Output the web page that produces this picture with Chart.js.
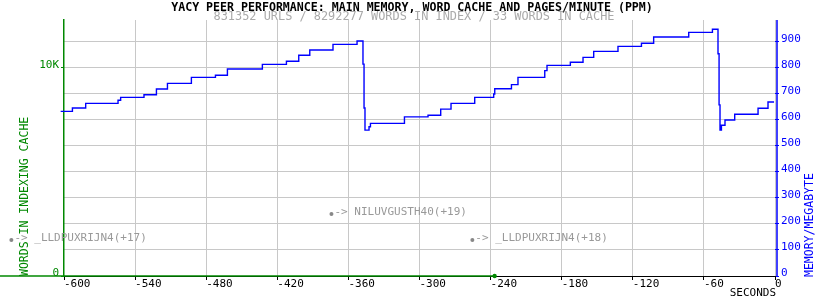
<!DOCTYPE html>
<html><head><meta charset="utf-8">
<script src="https://cdn.jsdelivr.net/npm/chart.js@4/dist/chart.umd.min.js"></script>
<style>html,body{margin:0;padding:0;background:#fff}</style>
</head><body>
<canvas id="c" width="825" height="300" style="display:block;width:825px;height:300px"></canvas>
<script>
const chartTitle = "YACY PEER PERFORMANCE: MAIN MEMORY, WORD CACHE AND PAGES/MINUTE (PPM)";
const chartSubtitle = "831352 URLS / 8292277 WORDS IN INDEX / 33 WORDS IN CACHE";
const xAxisTitle = "SECONDS";
const leftAxisTitle = "WORDS IN INDEXING CACHE";
const rightAxisTitle = "MEMORY/MEGABYTE";

const memSeconds = [-602.8,-592.9,-581.7,-554.4,-552.2,-532.5,-522.0,-512.7,-492.5,-472.2,-462.1,-432.6,-412.3,-401.9,-392.6,-373.0,-352.7,-347.7,-346.8,-346.0,-342.6,-341.4,-312.7,-292.8,-282.1,-273.4,-253.4,-237.4,-236.5,-222.4,-216.9,-194.3,-192.4,-172.7,-162.0,-153.0,-132.5,-112.7,-102.4,-72.8,-52.8,-48.1,-47.2,-46.4,-45.2,-42.2,-34.0,-14.3,-5.9,-0.8];
const memMegabytes = [633,646,664,676,687,697,719,741,764,772,796,814,826,849,869,891,904,815,646,561,574,587,612,618,642,664,687,700,720,736,764,790,810,822,841,864,883,895,919,937,949,855,658,561,580,600,622,645,669,669];

const cacheSeconds = [-654, -236.6];
const cacheWords = [0, 0];

const peerSeconds = [-644.4, -374.3, -255.4];
const peerWords = [1731, 2981, 1731];
const peerLabels = ["-> _LLDPUXRIJN4(+17)", "-> NILUVGUSTH40(+19)", "-> _LLDPUXRIJN4(+18)"];

const xTicks = [-600,-540,-480,-420,-360,-300,-240,-180,-120,-60,0];
const memTicks = [0,100,200,300,400,500,600,700,800,900];
const wordTicks = [0,10000];
const memMax = 984.6;
const wordMax = memMax * 12.5;

const FONT = "'DejaVu Sans Mono', monospace";
const GREEN = '#008800';
const BLUE = '#0000ff';
const GRID = '#c8c8c8';

const textPlugin = {
  id: 'texts',
  afterDatasetsDraw(chart) {
    const ctx = chart.ctx;
    const meta = chart.getDatasetMeta(2);
    ctx.save();
    ctx.font = "11px " + FONT;
    meta.data.forEach((pt, i) => {
      ctx.fillStyle = '#888888';
      ctx.beginPath();
      ctx.arc(pt.x, pt.y, 2, 0, Math.PI * 2);
      ctx.fill();
      ctx.fillStyle = '#999999';
      ctx.textAlign = 'left';
      ctx.textBaseline = 'alphabetic';
      ctx.fillText(peerLabels[i], pt.x + 3, pt.y + 1);
    });
    ctx.restore();
  },
  afterDraw(chart) {
    const ctx = chart.ctx;
    const a = chart.chartArea;
    ctx.save();
    // right axis line (slightly right of the plot edge)
    ctx.strokeStyle = BLUE;
    ctx.lineWidth = 1.5;
    ctx.beginPath();
    ctx.moveTo(a.right + 2, a.top);
    ctx.lineTo(a.right + 2, a.bottom);
    ctx.stroke();
    ctx.textAlign = 'center';
    ctx.textBaseline = 'middle';
    ctx.fillStyle = '#000';
    ctx.font = "bold 11.6px " + FONT;
    ctx.fillText(chartTitle, 412, 7.5);
    ctx.fillStyle = '#aaaaaa';
    ctx.font = "11.9px " + FONT;
    ctx.fillText(chartSubtitle, 414, 17);
    ctx.font = "11px " + FONT;
    ctx.fillStyle = '#000';
    ctx.textAlign = 'right';
    ctx.fillText(xAxisTitle, a.right + 1, 293);
    // left title
    ctx.save();
    ctx.translate(25.5, a.bottom);
    ctx.rotate(-Math.PI / 2);
    ctx.textAlign = 'left';
    ctx.fillStyle = GREEN;
    ctx.font = "11.5px " + FONT;
    ctx.fillText(leftAxisTitle, 0, 0);
    ctx.restore();
    // right title
    ctx.save();
    ctx.translate(810, a.bottom + 1);
    ctx.rotate(-Math.PI / 2);
    ctx.textAlign = 'left';
    ctx.fillStyle = BLUE;
    ctx.font = "11.5px " + FONT;
    ctx.fillText(rightAxisTitle, 0, 0);
    ctx.restore();
    ctx.restore();
  }
};

new Chart(document.getElementById('c'), {
  data: {
    datasets: [
      {
        type: 'line',
        label: 'memory',
        data: memSeconds.map((x, i) => ({x: x, y: memMegabytes[i]})),
        yAxisID: 'yMem',
        borderColor: BLUE,
        borderWidth: 1.4,
        pointRadius: 0,
        stepped: true,
        clip: false,
        order: 1
      },
      {
        type: 'line',
        label: 'cache',
        data: cacheSeconds.map((x, i) => ({x: x, y: cacheWords[i]})),
        yAxisID: 'yWords',
        borderColor: GREEN,
        backgroundColor: GREEN,
        borderWidth: 1.5,
        pointRadius: [0, 2.2],
        pointBorderWidth: 0,
        clip: false,
        order: 2
      },
      {
        type: 'scatter',
        label: 'peers',
        data: peerSeconds.map((x, i) => ({x: x, y: peerWords[i]})),
        yAxisID: 'yWords',
        backgroundColor: '#888888',
        borderWidth: 0,
        pointRadius: 0,
        clip: false,
        order: 3
      }
    ]
  },
  options: {
    responsive: false,
    animation: false,
    devicePixelRatio: 1,
    layout: {padding: {top: 20, left: 0, right: 0, bottom: 0}},
    plugins: {legend: {display: false}, tooltip: {enabled: false}, title: {display: false}},
    scales: {
      x: {
        type: 'linear',
        position: 'bottom',
        min: -600, max: 0,
        afterBuildTicks: s => { s.ticks = xTicks.map(v => ({value: v})); },
        afterFit: s => { s.height = 24; },
        ticks: {align: 'start', color: '#000', font: {family: FONT, size: 11}, padding: -2, maxRotation: 0, autoSkip: false},
        grid: {color: c => (c.tick && c.tick.value === -600) ? 'rgba(0,0,0,0)' : GRID, tickColor: '#000', tickLength: 4, lineWidth: 1},
        border: {color: '#000', width: 1}
      },
      yWords: {
        type: 'linear',
        position: 'left',
        min: 0, max: wordMax,
        afterBuildTicks: s => { s.ticks = wordTicks.map(v => ({value: v})); },
        afterFit: s => { s.width = 64; },
        ticks: {align: 'end', color: GREEN, font: {family: FONT, size: 11}, padding: 2, labelOffset: 2.5, callback: v => v === 10000 ? '10K' : String(v)},
        grid: {drawOnChartArea: false, tickColor: GREEN, tickLength: 3},
        border: {color: GREEN, width: 1.5}
      },
      yMem: {
        type: 'linear',
        position: 'right',
        min: 0, max: memMax,
        afterBuildTicks: s => { s.ticks = memTicks.map(v => ({value: v})); },
        afterFit: s => { s.width = 50; },
        ticks: {align: 'end', color: BLUE, font: {family: FONT, size: 11}, padding: 2, labelOffset: 2.5},
        grid: {color: c => (c.tick && c.tick.value === 0) ? 'rgba(0,0,0,0)' : GRID, tickColor: BLUE, tickLength: 4},
        border: {display: false}
      }
    }
  },
  plugins: [textPlugin]
});
</script>
</body></html>
